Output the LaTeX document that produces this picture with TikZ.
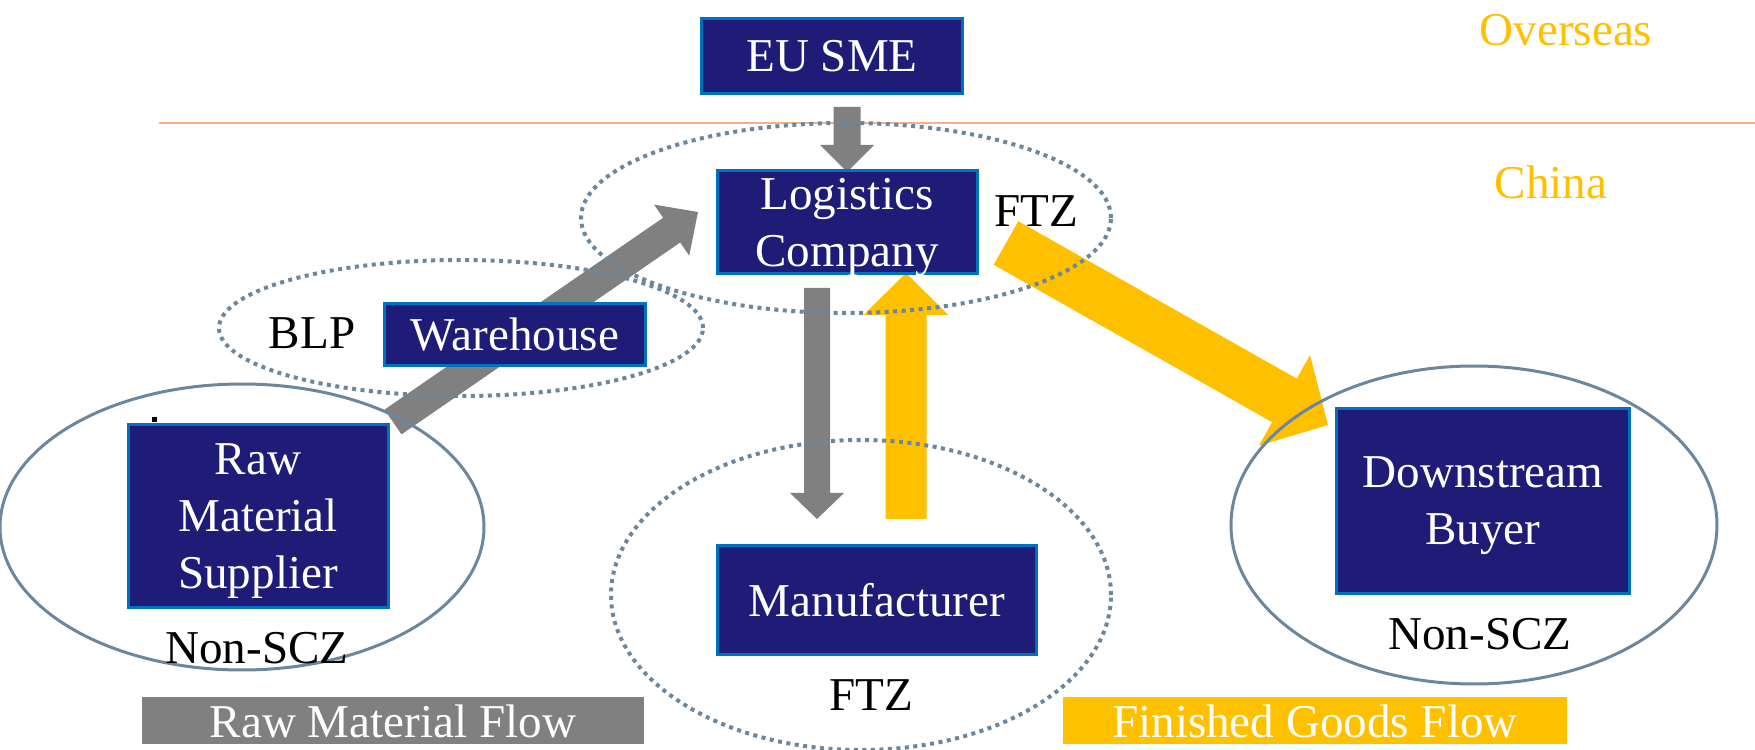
\documentclass[tikz,border=0pt]{standalone}
\usepackage{fontspec}
\setmainfont{Liberation Serif}
\usetikzlibrary{calc}
\definecolor{navy}{RGB}{31,28,120}
\definecolor{boxedge}{RGB}{0,112,192}
\definecolor{ellcol}{RGB}{107,135,158}
\definecolor{gold}{RGB}{255,192,0}
\definecolor{flowgray}{RGB}{128,128,128}
\definecolor{salmon}{RGB}{244,177,131}
% #1 start, #2 tip, #3 half shaft width, #4 half head width, #5 head length, #6 colour
\newcommand\blockarr[6]{%
  \path ($(#2)!#5!(#1)$) coordinate (hb);
  \fill[#6] ($(#1)!#3!90:(#2)$) -- ($(hb)!#3!90:(#2)$) -- ($(hb)!#4!90:(#2)$) -- (#2)
    -- ($(hb)!#4!-90:(#2)$) -- ($(hb)!#3!-90:(#2)$) -- ($(#1)!#3!-90:(#2)$) -- cycle;}
\begin{document}
\begin{tikzpicture}[x=0.1mm,y=-0.1mm,
  every node/.style={font=\fontsize{13.4pt}{16.2pt}\selectfont},
  entity/.style={draw=boxedge, line width=0.3mm, fill=navy, text=white, align=center, inner sep=0pt},
  multiline/.style={text depth=-1.6pt},
  zonelabel/.style={inner sep=0pt, text=black},
  solidzone/.style={draw=ellcol, line width=0.3mm},
  dotzone/.style={draw=ellcol, line width=0.4mm, dash pattern=on 0.4mm off 0.45mm},
  legendbox/.style={fill=#1, text=white, inner sep=0pt, minimum height=4.7mm}]
\useasboundingbox (0,0) rectangle (1755,750);
% boundary line
\draw[salmon, line width=0.2mm] (159,123) -- (1755,123);
\node[zonelabel] (ftz1) at (1036,211) {FTZ};
% arrows
\coordinate (a1s) at (847,107); \coordinate (a1t) at (847,172);
\blockarr{a1s}{a1t}{1.35mm}{2.7mm}{2.7mm}{flowgray}
\coordinate (a2s) at (393,422); \coordinate (a2t) at (698,212);
\blockarr{a2s}{a2t}{1.5mm}{3.1mm}{3.2mm}{flowgray}
\coordinate (a3s) at (817,288); \coordinate (a3t) at (817,519);
\blockarr{a3s}{a3t}{1.3mm}{2.7mm}{2.6mm}{flowgray}
\coordinate (a4s) at (906,519); \coordinate (a4t) at (906,273);
\blockarr{a4s}{a4t}{2.05mm}{4.25mm}{4.2mm}{gold}
\coordinate (a5s) at (1006,243); \coordinate (a5t) at (1328,425);
\blockarr{a5s}{a5t}{2.5mm}{5.2mm}{5mm}{gold}
% zones
\draw[dotzone] (846,218) ellipse [x radius=26.5mm, y radius=9.5mm];
\draw[dotzone] (461,328) ellipse [x radius=24.2mm, y radius=6.8mm];
\draw[dotzone] (861,595) ellipse [x radius=25mm, y radius=15.5mm];
\draw[solidzone] (242,527) ellipse [x radius=24.2mm, y radius=14.3mm];
\draw[solidzone] (1474,525) ellipse [x radius=24.3mm, y radius=15.9mm];
% entities
\node[entity, minimum width=26.1mm, minimum height=7.5mm] (eu) at (832,56) {EU SME};
\node[entity, multiline, minimum width=26mm, minimum height=10.3mm] (log) at (847,222) {Logistics\\Company};
\node[entity, minimum width=26.1mm, minimum height=6.2mm] (wh) at (515,335) {Warehouse};
\node[entity, multiline, minimum width=26mm, minimum height=18.3mm] (raw) at (258,516) {Raw\\Material\\Supplier};
\node[entity, minimum width=31.9mm, minimum height=10.9mm] (man) at (877,600) {Manufacturer};
\node[entity, multiline, minimum width=29.3mm, minimum height=18.5mm] (down) at (1483,501) {Downstream\\Buyer};
\fill (152,417) rectangle (157,422);
% labels
\node[zonelabel] (blp) at (312,333) {BLP};
\node[zonelabel] (nonscz1) at (257,648) {Non-SCZ};
\node[zonelabel] (nonscz2) at (1480,634) {Non-SCZ};
\node[zonelabel] (ftz2) at (871,695) {FTZ};
\node[zonelabel, text=gold] (overseas) at (1566,30) {Overseas};
\node[zonelabel, text=gold] (china) at (1551,182) {China};
% legend
\node[legendbox=flowgray, minimum width=50.2mm] (rawflow) at (393,721) {Raw Material Flow};
\node[legendbox=gold, minimum width=50.4mm] (fgflow) at (1315,721) {Finished Goods Flow};
\end{tikzpicture}
\end{document}
